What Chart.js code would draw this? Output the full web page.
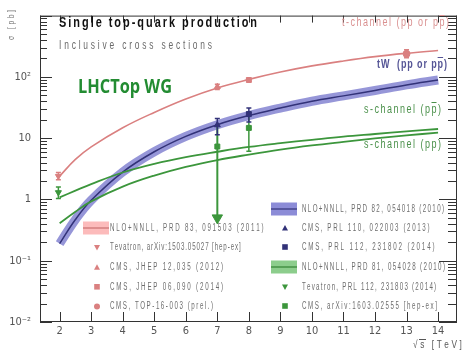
<!DOCTYPE html>
<html>
<head>
<meta charset="utf-8">
<script src="https://cdn.jsdelivr.net/npm/chart.js@4"></script>
<style>
  body { margin: 0; background: #fff; }
  #wrap { width: 464px; height: 352px; }
</style>
</head>
<body>
<div id="wrap"><canvas id="xsec" width="464" height="352"></canvas></div>
<script>
// theory curves, sqrt(s) in TeV, sigma in pb
const energies = [2, 2.5, 3, 4, 5, 6, 7, 8, 9, 10, 11, 12, 13, 14];
const tChannel = [2.4, 4.5, 7.2, 14.8, 26.3, 43.6, 66, 91, 120, 151, 182, 214, 243, 270];
const tWChannel = [0.19, 0.47, 0.97, 2.8, 6.0, 10.7, 16.6, 23.4, 31, 40, 49, 60, 74, 89];
const sChannelPPbar = [1.08, 1.39, 1.78, 2.75, 3.8, 4.9, 6.0, 7.2, 8.3, 9.4, 10.6, 11.7, 12.9, 14.1];
const sChannelPP = [0.41, 0.63, 0.93, 1.62, 2.45, 3.4, 4.4, 5.4, 6.5, 7.6, 8.7, 9.9, 11.1, 12.3];

// measurements: energy, value, error low, error high
const tMeasE = [1.96, 7, 8, 13];
const tMeasVal = [2.4, 69, 89, 238];
const tMeasLo = [2.1, 62, 84, 205];
const tMeasHi = [2.75, 76, 94, 278];

const tWMeasE = [7, 8];
const tWMeasVal = [16.4, 24.7];
const tWMeasLo = [11.4, 18.4];
const tWMeasHi = [21, 31];

const sMeasE = [1.96, 7, 8];
const sMeasVal = [1.3, 7.3, 14.7];
const sMeasLo = [1.04, 0.5, 6.1];
const sMeasHi = [1.6, 17.7, 26.5];

const xTicks = [2, 3, 4, 5, 6, 7, 8, 9, 10, 11, 12, 13, 14];
const yDecades = [0.01, 0.1, 1, 10, 100, 1000];
const yTickLabels = ['10⁻²', '10⁻¹', '1', '10', '10²', ''];

const legendLeft = ['NLO+NNLL, PRD 83, 091503 (2011)', 'Tevatron, arXiv:1503.05027 [hep-ex]',
  'CMS, JHEP 12,035 (2012)', 'CMS, JHEP 06,090 (2014)', 'CMS, TOP-16-003 (prel.)'];
const legendRight = ['NLO+NNLL, PRD 82, 054018 (2010)', 'CMS, PRL 110, 022003 (2013)',
  'CMS, PRL 112, 231802 (2014)', 'NLO+NNLL, PRD 81, 054028 (2010)',
  'Tevatron, PRL 112, 231803 (2014)', 'CMS, arXiv:1603.02555 [hep-ex]'];

const PINK = 'rgb(218,128,128)';
const NAVY = 'rgb(50,50,120)';
const BLUEBAND = 'rgba(105,105,200,0.7)';
const GREEN = 'rgb(60,150,60)';
const SANS = '"Liberation Sans", sans-serif';

function pts(xv, yv) {
  return xv.map((x, i) => ({ x: x, y: yv[i] }));
}

function curve(data, color, width, order) {
  return { type: 'line', data: pts(energies, data), borderColor: color, borderWidth: width,
    pointRadius: 0, tension: 0.4, fill: false, order: order };
}

function errBars(e, lo, hi, color, cap) {
  return e.map((x, i) => ({
    type: 'line', data: [{ x: x, y: lo[i] }, { x: x, y: hi[i] }], borderColor: color,
    backgroundColor: color, borderWidth: 1.5, pointStyle: 'line', pointRadius: cap,
    pointBorderWidth: 1.5, order: 1
  }));
}

function markers(e, v, color, styles, rotations, radius) {
  return { type: 'scatter', data: pts(e, v), backgroundColor: color, borderColor: color,
    pointStyle: styles, pointRotation: rotations, pointRadius: radius || 3.5, order: 0 };
}

const sErr = errBars(sMeasE, sMeasLo, sMeasHi, GREEN, 2.5);
// 7 TeV s-channel has no lower bound: plain line ending in an arrow head
sErr[1].pointRadius = 0;
sErr[1].borderWidth = 2;

const datasets = [
  markers(tMeasE, tMeasVal, PINK, ['triangle', 'triangle', 'rect', 'circle'], [180, 0, 0, 0]),
  markers(tWMeasE, tWMeasVal, NAVY, ['triangle', 'rect'], [0, 0]),
  markers(sMeasE, sMeasVal, GREEN, ['triangle', 'rect', 'rect'], [180, 0, 0]),
  markers([sMeasE[1]], [sMeasLo[1]], GREEN, 'triangle', 180, 6),
  ...errBars(tMeasE, tMeasLo, tMeasHi, PINK, 2.5),
  ...errBars(tWMeasE, tWMeasLo, tWMeasHi, NAVY, 2.5),
  ...sErr,
  curve(sChannelPPbar, GREEN, 1.8, 2),
  curve(sChannelPP, GREEN, 1.8, 2),
  curve(tChannel, PINK, 1.6, 2),
  curve(tWChannel, NAVY, 1.5, 3),
  curve(tWChannel, BLUEBAND, 9, 4)
];

// text spread to a given width, glyph by glyph, glyphs squeezed by cx
function spaced(ctx, text, x0, x1, y, font, color, cx) {
  cx = cx || 1;
  ctx.save();
  ctx.font = font;
  ctx.fillStyle = color;
  ctx.textBaseline = 'middle';
  ctx.textAlign = 'left';
  const w = ctx.measureText(text).width * cx;
  const n = [...text].length;
  const gap = n > 1 ? (x1 - x0 - w) / (n - 1) : 0;
  let x = x0;
  const pos = [];
  for (const ch of text) {
    pos.push(x);
    ctx.save();
    ctx.translate(x, y);
    ctx.scale(cx, 1);
    ctx.fillText(ch, 0, 0);
    ctx.restore();
    x += ctx.measureText(ch).width * cx + gap;
  }
  ctx.restore();
  return pos;
}

function overbar(ctx, text, x0, x1, y, font, color, cx, barIdx) {
  const pos = spaced(ctx, text, x0, x1, y, font, color, cx);
  ctx.save();
  ctx.font = font;
  ctx.strokeStyle = color;
  ctx.lineWidth = 1;
  const w = ctx.measureText('p').width * cx;
  ctx.beginPath();
  ctx.moveTo(pos[barIdx], y - 7.5);
  ctx.lineTo(pos[barIdx] + w, y - 7.5);
  ctx.stroke();
  ctx.restore();
}

function marker(ctx, style, x, y, color) {
  ctx.save();
  ctx.fillStyle = color;
  ctx.beginPath();
  if (style === 'tri') { ctx.moveTo(x, y - 3); ctx.lineTo(x + 3, y + 2.5); ctx.lineTo(x - 3, y + 2.5); }
  else if (style === 'tridown') { ctx.moveTo(x, y + 3); ctx.lineTo(x + 3, y - 2.5); ctx.lineTo(x - 3, y - 2.5); }
  else if (style === 'sq') { ctx.rect(x - 2.8, y - 2.8, 5.6, 5.6); }
  else { ctx.arc(x, y, 3, 0, Math.PI * 2); }
  ctx.fill();
  ctx.restore();
}

function band(ctx, x, y, fill, line) {
  ctx.save();
  ctx.fillStyle = fill;
  ctx.fillRect(x, y - 6.5, 26, 13);
  ctx.strokeStyle = line;
  ctx.lineWidth = 1.2;
  ctx.beginPath();
  ctx.moveTo(x, y);
  ctx.lineTo(x + 26, y);
  ctx.stroke();
  ctx.restore();
}

const decor = {
  id: 'decor',
  afterDraw(chart) {
    const ctx = chart.ctx;
    const a = chart.chartArea;
    const xs = chart.scales.x, ys = chart.scales.y;

    // frame and inward ticks
    ctx.save();
    ctx.strokeStyle = '#333';
    ctx.lineWidth = 1;
    ctx.beginPath();
    ctx.moveTo(a.left + 0.5, a.top); ctx.lineTo(a.left + 0.5, a.bottom);
    ctx.moveTo(a.left, a.bottom - 0.5); ctx.lineTo(a.right, a.bottom - 0.5);
    ctx.moveTo(a.left, a.top + 0.5); ctx.lineTo(a.right, a.top + 0.5);
    ctx.moveTo(a.right - 0.5, a.top); ctx.lineTo(a.right - 0.5, a.bottom);
    xTicks.forEach(v => {
      const px = Math.round(xs.getPixelForValue(v)) + 0.5;
      ctx.moveTo(px, a.bottom); ctx.lineTo(px, a.bottom - 10);
      ctx.moveTo(px, a.top); ctx.lineTo(px, a.top + 7);
    });
    yDecades.forEach(d => {
      for (let k = 1; k <= 9; k++) {
        const v = d * k;
        if (v > 1000) break;
        const py = Math.round(ys.getPixelForValue(v)) + 0.5;
        const len = k === 1 ? 12 : 7;
        ctx.moveTo(a.left, py); ctx.lineTo(a.left + len, py);
        ctx.moveTo(a.right, py); ctx.lineTo(a.right - (k === 1 ? 18 : 9), py);
      }
    });
    ctx.stroke();
    ctx.restore();

    // titles
    spaced(ctx, 'Single top-quark production', 59, 257, 23, 'bold 14px ' + SANS, '#111', 0.78);
    spaced(ctx, 'Inclusive cross sections', 59, 212, 46, '12px ' + SANS, '#6a6a6a', 0.7);
    ctx.save();
    ctx.font = 'bold 20px "Open Sans", sans-serif';
    const lw0 = ctx.measureText('LHCTop WG').width;
    ctx.translate(78, 87);
    ctx.scale(94 / lw0, 1);
    ctx.fillStyle = 'rgb(35,140,50)';
    ctx.textBaseline = 'middle';
    ctx.fillText('LHCTop WG', 0, 0);
    ctx.restore();

    // channel labels
    const lf = '12px ' + SANS;
    overbar(ctx, 't-channel (pp or pp)', 342, 449, 23, lf, 'rgb(218,145,145)', 0.75, 18);
    overbar(ctx, 'tW  (pp or pp)', 377, 447, 65, 'bold 12px ' + SANS, 'rgb(85,85,150)', 0.75, 12);
    overbar(ctx, 's-channel (pp)', 364, 441, 110, lf, 'rgb(75,145,75)', 0.75, 12);
    spaced(ctx, 's-channel (pp)', 364, 441, 145, lf, 'rgb(75,145,75)', 0.75);

    // axis titles
    ctx.save();
    ctx.translate(12, 25);
    ctx.rotate(-Math.PI / 2);
    spaced(ctx, 'σ [pb]', -15, 15, 0, '9px ' + SANS, '#777', 0.75);
    ctx.restore();
    spaced(ctx, '√s [TeV]', 413, 461, 345, '11px ' + SANS, '#555', 0.75);
    ctx.save();
    ctx.strokeStyle = '#555';
    ctx.beginPath(); ctx.moveTo(419, 339.5); ctx.lineTo(426, 339.5); ctx.stroke();
    ctx.restore();

    // legend
    const tf = '10px ' + SANS;
    const tc = '#6e6e6e';
    const lw = [153, 130, 113, 113, 103];
    band(ctx, 83, 228, 'rgba(250,150,150,0.65)', 'rgb(200,110,110)');
    legendLeft.forEach((t, i) => {
      const y = 228 + i * 19.6;
      spaced(ctx, t, 110, 110 + lw[i], y, tf, tc, 0.62);
    });
    marker(ctx, 'tridown', 97, 247.6, PINK);
    marker(ctx, 'tri', 97, 267.2, PINK);
    marker(ctx, 'sq', 97, 286.8, PINK);
    marker(ctx, 'circ', 97, 306.4, PINK);

    const rw = [142, 127, 132, 143, 133, 135];
    const ry = [209, 228, 247, 267, 287, 306];
    band(ctx, 271, 209, 'rgb(140,140,215)', NAVY);
    band(ctx, 271, 267, 'rgb(140,205,140)', 'rgb(50,130,50)');
    legendRight.forEach((t, i) => spaced(ctx, t, 302, 302 + rw[i], ry[i], tf, tc, 0.62));
    marker(ctx, 'tri', 285, 228, NAVY);
    marker(ctx, 'sq', 285, 247, NAVY);
    marker(ctx, 'tridown', 285, 287, GREEN);
    marker(ctx, 'sq', 285, 306, GREEN);
  }
};

new Chart(document.getElementById('xsec').getContext('2d'), {
  data: { datasets: datasets },
  options: {
    responsive: false,
    animation: false,
    layout: { padding: { top: 7, right: 1, left: 0, bottom: 0 } },
    plugins: { legend: { display: false }, tooltip: { enabled: false } },
    scales: {
      x: {
        type: 'linear', min: 1.377, max: 14.6,
        afterBuildTicks: s => { s.ticks = xTicks.map(v => ({ value: v })); },
        afterFit: s => { s.height = 30; },
        grid: { display: false, drawTicks: false },
        border: { display: false },
        ticks: { padding: 3, color: '#555', autoSkip: false, maxRotation: 0,
          font: { family: '"Liberation Sans Narrow", "DejaVu Sans Condensed", sans-serif', size: 11 },
          callback: v => String(v) }
      },
      y: {
        type: 'logarithmic', min: 0.01, max: 1000,
        afterBuildTicks: s => { s.ticks = yDecades.map(v => ({ value: v })); },
        afterFit: s => { s.width = 40; },
        grid: { display: false, drawTicks: false },
        border: { display: false },
        ticks: { padding: 9, color: '#555', autoSkip: false,
          font: { family: '"Liberation Sans Narrow", "DejaVu Sans Condensed", sans-serif', size: 11 },
          callback: (v) => {
            const i = yDecades.findIndex(d => Math.abs(d - v) / d < 1e-6);
            return i >= 0 ? yTickLabels[i] : '';
          } }
      }
    }
  },
  plugins: [decor]
});
</script>
</body>
</html>
